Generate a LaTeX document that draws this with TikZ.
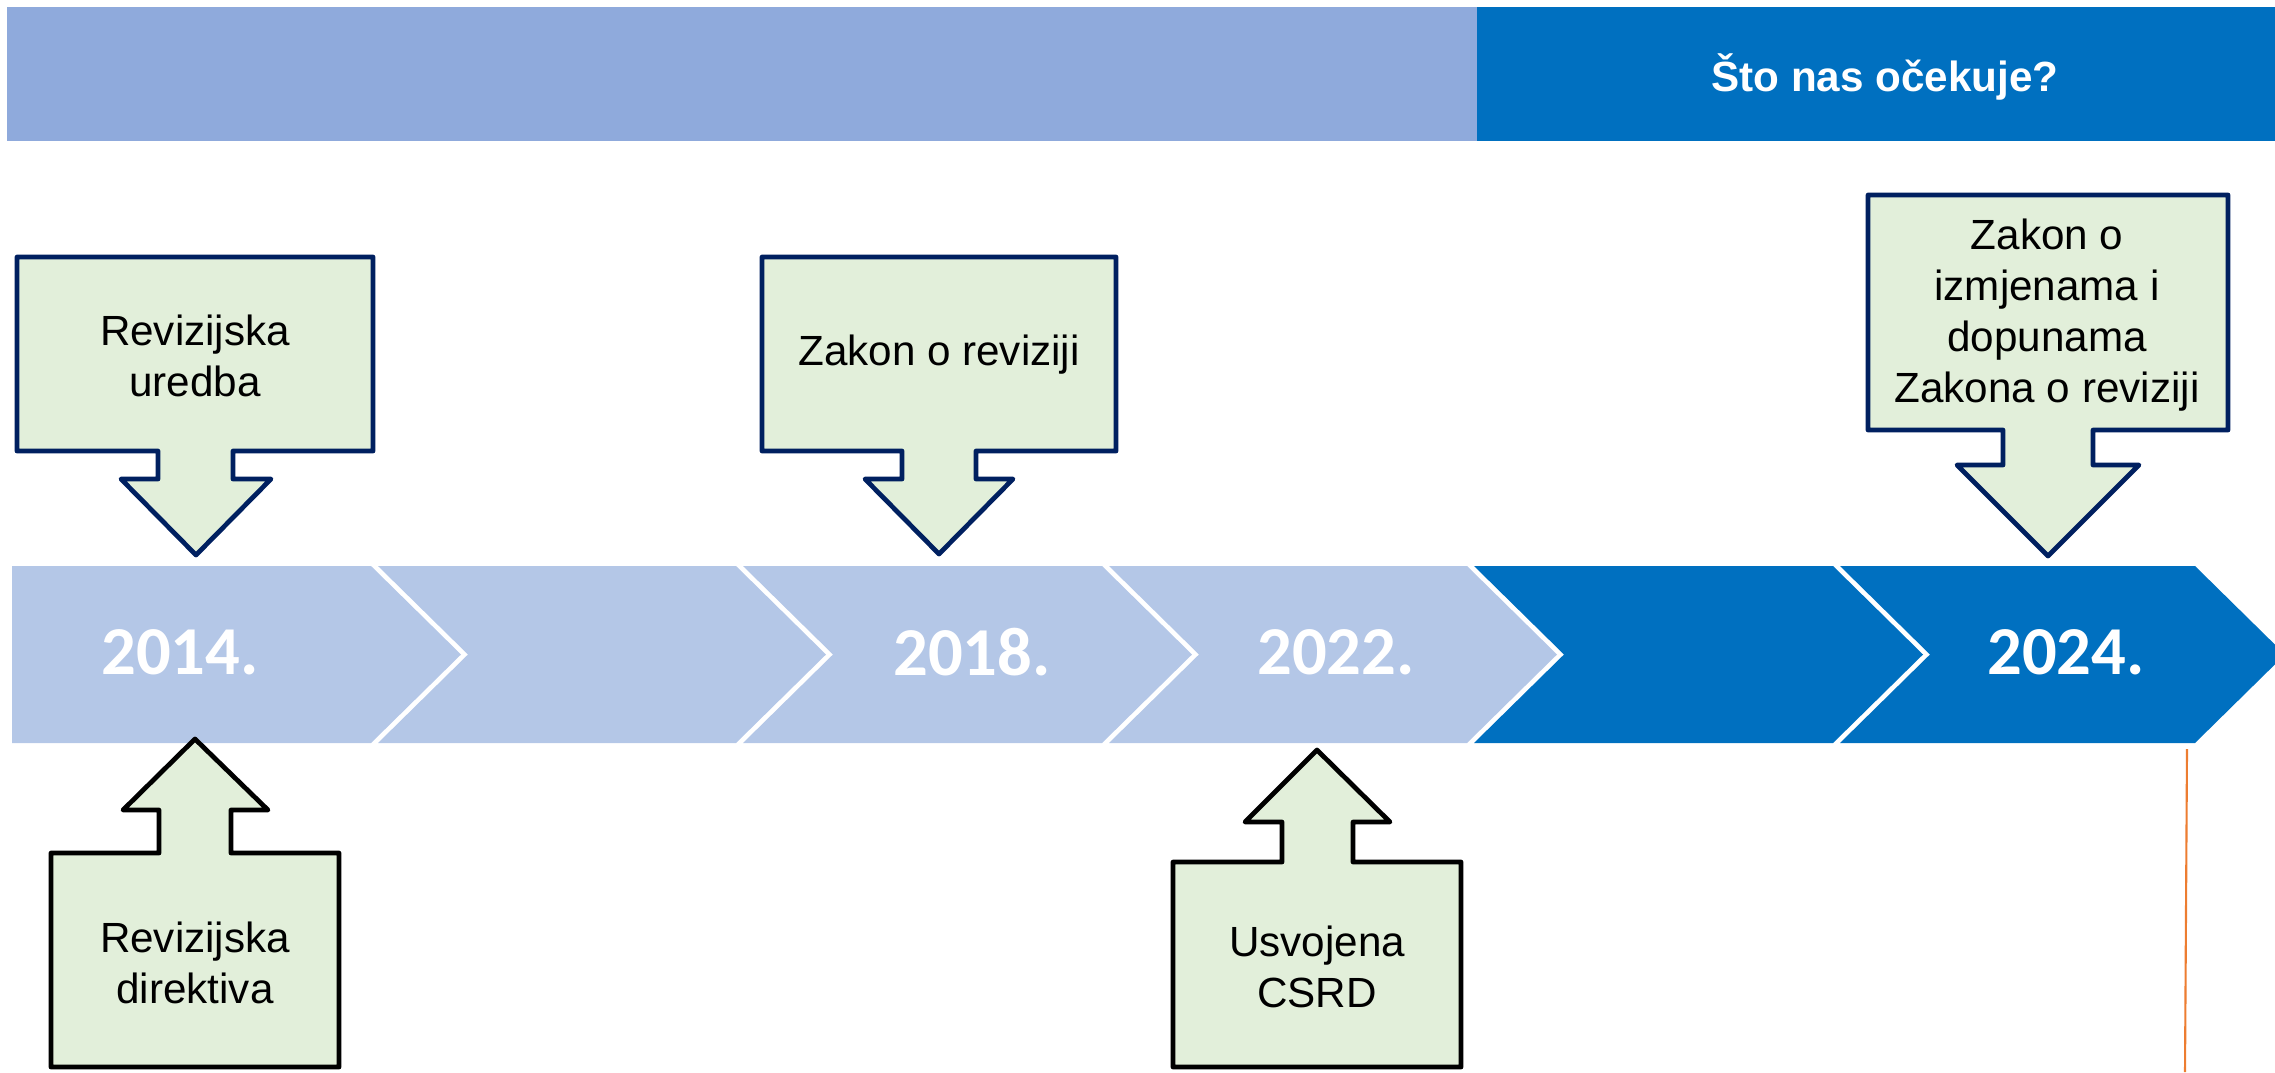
\documentclass[tikz,border=0pt]{standalone}
\usepackage{fontspec}
\setmainfont{Liberation Sans}
\newfontfamily\yearfont{Carlito}
\definecolor{chevlight}{HTML}{B4C7E7}
\definecolor{chevdark}{HTML}{0070C0}
\definecolor{headlight}{HTML}{8FAADC}
\definecolor{boxfill}{HTML}{E2EFDA}
\definecolor{navy}{HTML}{002060}
\definecolor{orangeline}{HTML}{ED7D31}
\begin{document}
\begin{tikzpicture}[x=0.01cm,y=-0.01cm,
  chevL/.style={fill=chevlight,draw=none},
  chevD/.style={fill=chevdark,draw=none},
  yearlbl/.style={text=white,font=\yearfont\bfseries\fontsize{19.5}{22}\selectfont,inner sep=0},
  topcall/.style={fill=boxfill,draw=navy,line width=1.35pt,line join=round},
  botcall/.style={fill=boxfill,draw=black,line width=1.35pt,line join=round},
  calltext/.style={align=center,inner sep=0,font=\fontsize{12}{14.5}\selectfont,text=black}]
\useasboundingbox (0,0) rectangle (2275,1072);
\clip (0,0) rectangle (2275,1072);
% header
\fill[headlight] (7,7) rectangle (1477,141);
\fill[chevdark] (1477,7) rectangle (2275,141);
\node[text=white,font=\bfseries\fontsize{12}{14}\selectfont,inner sep=0] (head) at (1885,77) {Što nas očekuje?};
% chevrons
\fill[chevL] (12,566) -- (371,566) -- (461,654.5) -- (371,743) -- (12,743) -- cycle;
\fill[chevL] (378,566) -- (736,566) -- (826,654.5) -- (736,743) -- (378,743) -- (468,654.5) -- cycle;
\fill[chevL] (743,566) -- (1102,566) -- (1192,654.5) -- (1102,743) -- (743,743) -- (833,654.5) -- cycle;
\fill[chevL] (1109,566) -- (1467,566) -- (1557,654.5) -- (1467,743) -- (1109,743) -- (1199,654.5) -- cycle;
\fill[chevD] (1474,566) -- (1833,566) -- (1923,654.5) -- (1833,743) -- (1474,743) -- (1564,654.5) -- cycle;
\fill[chevD] (1840,566) -- (2195,566) -- (2285,654.5) -- (2195,743) -- (1840,743) -- (1930,654.5) -- cycle;
\node[yearlbl] (y14) at (180,652) {2014.};
\node[yearlbl] (y18) at (972,652) {2018.};
\node[yearlbl] (y22) at (1336,652) {2022.};
\node[yearlbl] (y24) at (2066,652) {2024.};
% top callouts
\draw[topcall] (17,257) -- (373,257) -- (373,451) -- (233,451) -- (233,479) -- (271,479) -- (196,555) -- (121,479) -- (158,479) -- (158,451) -- (17,451) -- cycle;
\node[calltext] (c1) at (195,356) {Revizijska\\uredba};
\draw[topcall] (762,257) -- (1116,257) -- (1116,451) -- (976,451) -- (976,479) -- (1013,479) -- (939,554) -- (865,479) -- (902,479) -- (902,451) -- (762,451) -- cycle;
\node[calltext] (c2) at (939,355) {Zakon o reviziji};
\draw[topcall] (1868,195) -- (2228,195) -- (2228,430) -- (2093,430) -- (2093,465) -- (2139,465) -- (2048,556) -- (1957,465) -- (2003,465) -- (2003,430) -- (1868,430) -- cycle;
\node[calltext] (c3) at (2047,315) {Zakon o\\izmjenama i\\dopunama\\Zakona o reviziji};
% bottom callouts
\draw[botcall] (51,853) -- (159,853) -- (159,810) -- (123,810) -- (195,739) -- (268,810) -- (231,810) -- (231,853) -- (339,853) -- (339,1067) -- (51,1067) -- cycle;
\node[calltext] (c4) at (195,963) {Revizijska\\direktiva};
\draw[botcall] (1173,862) -- (1282,862) -- (1282,822) -- (1245,822) -- (1317,750) -- (1390,822) -- (1353,822) -- (1353,862) -- (1461,862) -- (1461,1067) -- (1173,1067) -- cycle;
\node[calltext] (c5) at (1317,967) {Usvojena\\CSRD};
% orange line
\coordinate (oTop) at (2187,749);
\coordinate (oBot) at (2185,1072);
\draw[orangeline,line width=0.6pt] (oTop) -- (oBot);
\end{tikzpicture}
\end{document}
